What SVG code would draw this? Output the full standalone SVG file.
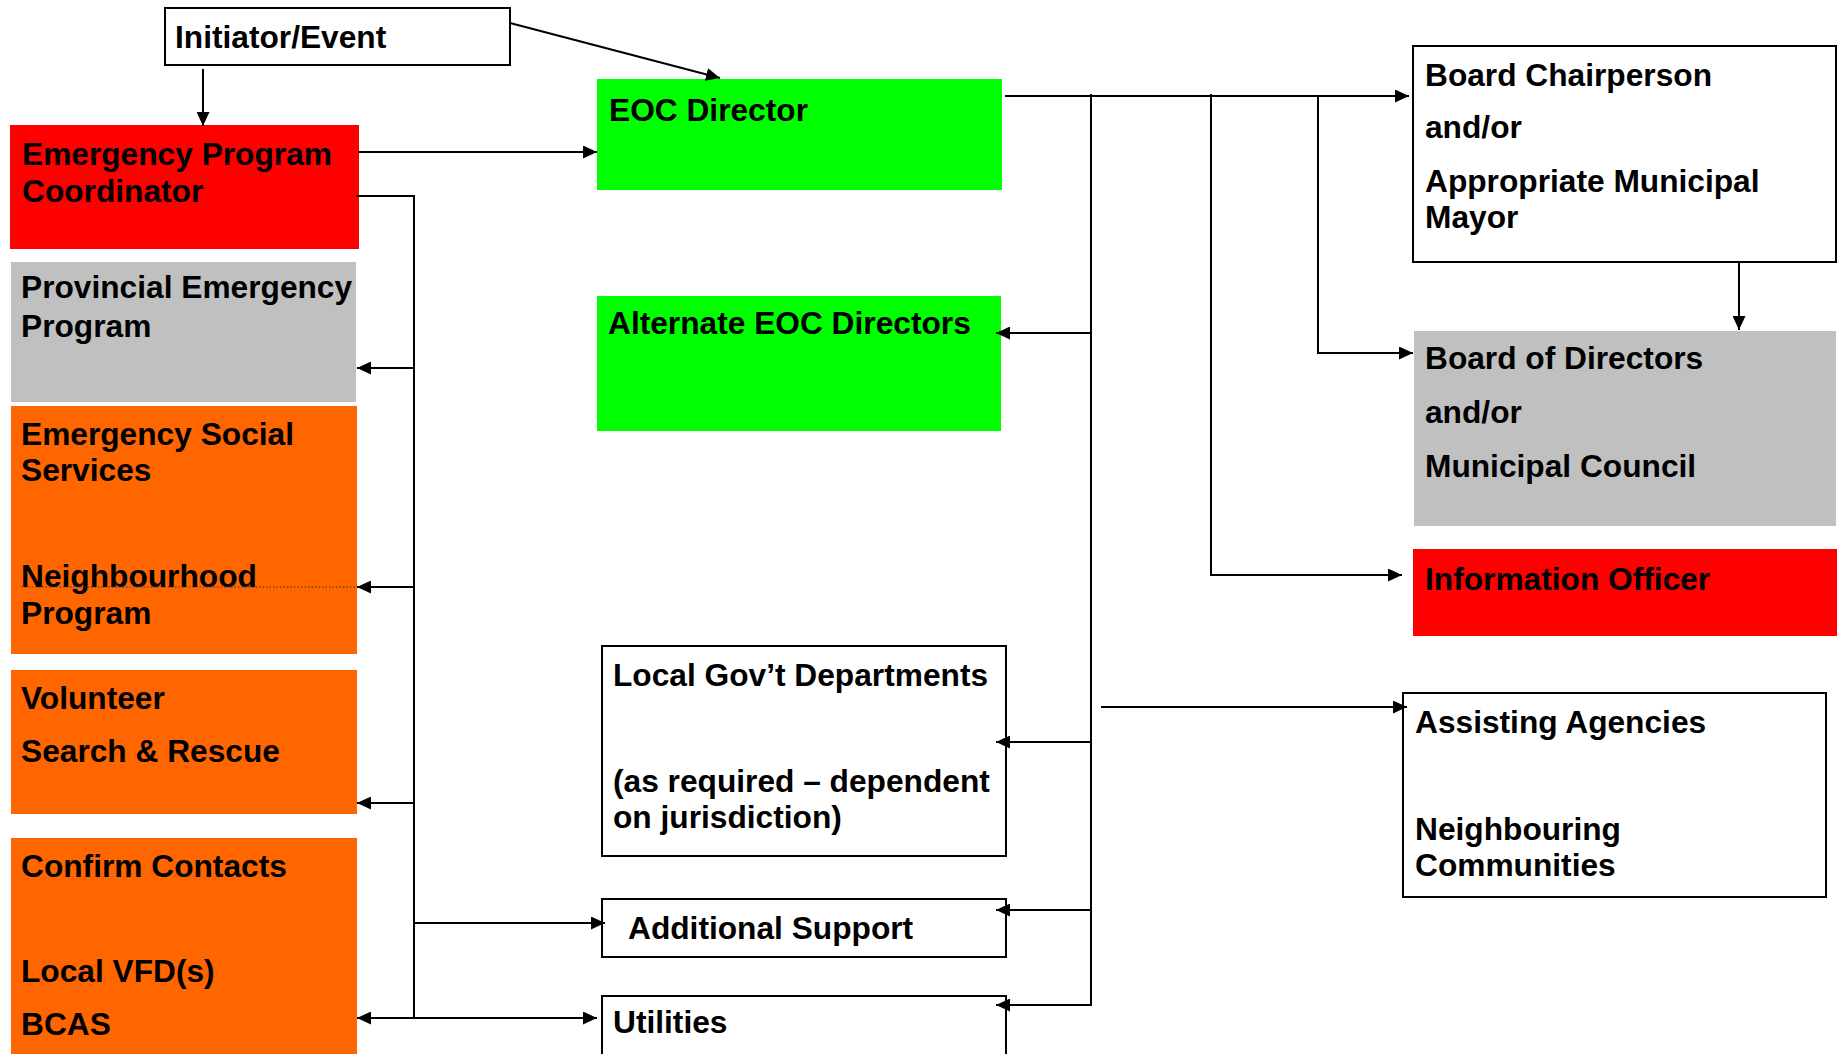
<svg xmlns="http://www.w3.org/2000/svg" width="1844" height="1054" viewBox="0 0 1844 1054">
<style>
  text { font-family: "Liberation Sans", Arial, sans-serif; font-weight: bold; font-size: 31.7px; fill: #000; }
  .box { stroke: #000; stroke-width: 2; fill: #fff; }
  .red { fill: #ff0000; }
  .green { fill: #00ff00; }
  .gray { fill: #c0c0c0; }
  .orange { fill: #ff6600; }
  .conn line, .conn polyline { stroke: #000; stroke-width: 2; fill: none; }
  .dot { stroke: #333; stroke-width: 1.2; stroke-dasharray: 1.5 2; fill: none; }
</style>
<defs>
  <marker id="ah" markerUnits="userSpaceOnUse" markerWidth="15" markerHeight="13" refX="14" refY="6.5" orient="auto-start-reverse">
    <path d="M0,0 L14,6.5 L0,13 z" fill="#000"/>
  </marker>
</defs>
<rect width="1844" height="1054" fill="#fff"/>

<g id="initiator">
  <rect class="box" x="165" y="8" width="345" height="57"/>
  <text x="175" y="48">Initiator/Event</text>
</g>
<g id="epc">
  <rect class="red" x="10" y="125" width="349" height="124"/>
  <text x="22" y="165">Emergency Program</text>
  <text x="22" y="202">Coordinator</text>
</g>
<g id="provincial">
  <rect class="gray" x="11" y="262" width="345" height="140"/>
  <text x="21" y="298">Provincial Emergency</text>
  <text x="21" y="337">Program</text>
</g>
<g id="ess">
  <rect class="orange" x="11" y="406" width="346" height="248"/>
  <text x="21" y="445">Emergency Social</text>
  <text x="21" y="481">Services</text>
  <text x="21" y="587">Neighbourhood</text>
  <text x="21" y="624">Program</text>
</g>
<g id="volunteer">
  <rect class="orange" x="11" y="670" width="346" height="144"/>
  <text x="21" y="709">Volunteer</text>
  <text x="21" y="762">Search &amp; Rescue</text>
</g>
<g id="confirm">
  <rect class="orange" x="11" y="838" width="346" height="230"/>
  <text x="21" y="877">Confirm Contacts</text>
  <text x="21" y="982">Local VFD(s)</text>
  <text x="21" y="1035">BCAS</text>
</g>
<g id="eoc">
  <rect class="green" x="597" y="79" width="405" height="111"/>
  <text x="609" y="121">EOC Director</text>
</g>
<g id="alternate">
  <rect class="green" x="597" y="296" width="404" height="135"/>
  <text x="608" y="334">Alternate EOC Directors</text>
</g>
<g id="localgov">
  <rect class="box" x="602" y="646" width="404" height="210"/>
  <text x="613" y="686">Local Gov’t Departments</text>
  <text x="613" y="792">(as required – dependent</text>
  <text x="613" y="828">on jurisdiction)</text>
</g>
<g id="additional">
  <rect class="box" x="602" y="899" width="404" height="58"/>
  <text x="628" y="939">Additional Support</text>
</g>
<g id="utilities">
  <rect class="box" x="602" y="996" width="404" height="80"/>
  <text x="613" y="1033">Utilities</text>
</g>
<g id="chair">
  <rect class="box" x="1413" y="46" width="423" height="216"/>
  <text x="1425" y="86">Board Chairperson</text>
  <text x="1425" y="138">and/or</text>
  <text x="1425" y="192">Appropriate Municipal</text>
  <text x="1425" y="228">Mayor</text>
</g>
<g id="directors">
  <rect class="gray" x="1414" y="331" width="422" height="195"/>
  <text x="1425" y="369">Board of Directors</text>
  <text x="1425" y="423">and/or</text>
  <text x="1425" y="477">Municipal Council</text>
</g>
<g id="info">
  <rect class="red" x="1413" y="549" width="424" height="87"/>
  <text x="1425" y="590">Information Officer</text>
</g>
<g id="assisting">
  <rect class="box" x="1403" y="693" width="423" height="204"/>
  <text x="1415" y="733">Assisting Agencies</text>
  <text x="1415" y="840">Neighbouring</text>
  <text x="1415" y="876">Communities</text>
</g>

<g id="connectors" class="conn">
  <line x1="203" y1="69" x2="203" y2="126" marker-end="url(#ah)"/>
  <line x1="510" y1="23" x2="720" y2="78" marker-end="url(#ah)"/>
  <line x1="358" y1="152" x2="597" y2="152" marker-end="url(#ah)"/>
  <polyline points="356,196 414,196 414,1019"/>
  <line x1="414" y1="368" x2="357" y2="368" marker-end="url(#ah)"/>
  <line x1="414" y1="587" x2="357" y2="587" marker-end="url(#ah)"/>
  <path class="dot" d="M21,587 H357"/>
  <line x1="414" y1="803" x2="357" y2="803" marker-end="url(#ah)"/>
  <line x1="414" y1="923" x2="605" y2="923" marker-end="url(#ah)"/>
  <line x1="357" y1="1018" x2="597" y2="1018" marker-start="url(#ah)" marker-end="url(#ah)"/>
  <line x1="1005" y1="96" x2="1409" y2="96" marker-end="url(#ah)"/>
  <line x1="1091" y1="94" x2="1091" y2="1006"/>
  <line x1="1091" y1="333" x2="996" y2="333" marker-end="url(#ah)"/>
  <line x1="1091" y1="742" x2="996" y2="742" marker-end="url(#ah)"/>
  <line x1="1091" y1="910" x2="996" y2="910" marker-end="url(#ah)"/>
  <line x1="1092" y1="1005" x2="996" y2="1005" marker-end="url(#ah)"/>
  <polyline points="1211,94 1211,575 1402,575" marker-end="url(#ah)"/>
  <polyline points="1318,96 1318,353 1413,353" marker-end="url(#ah)"/>
  <line x1="1739" y1="262" x2="1739" y2="330" marker-end="url(#ah)"/>
  <line x1="1101" y1="707" x2="1407" y2="707" marker-end="url(#ah)"/>
</g>
</svg>
